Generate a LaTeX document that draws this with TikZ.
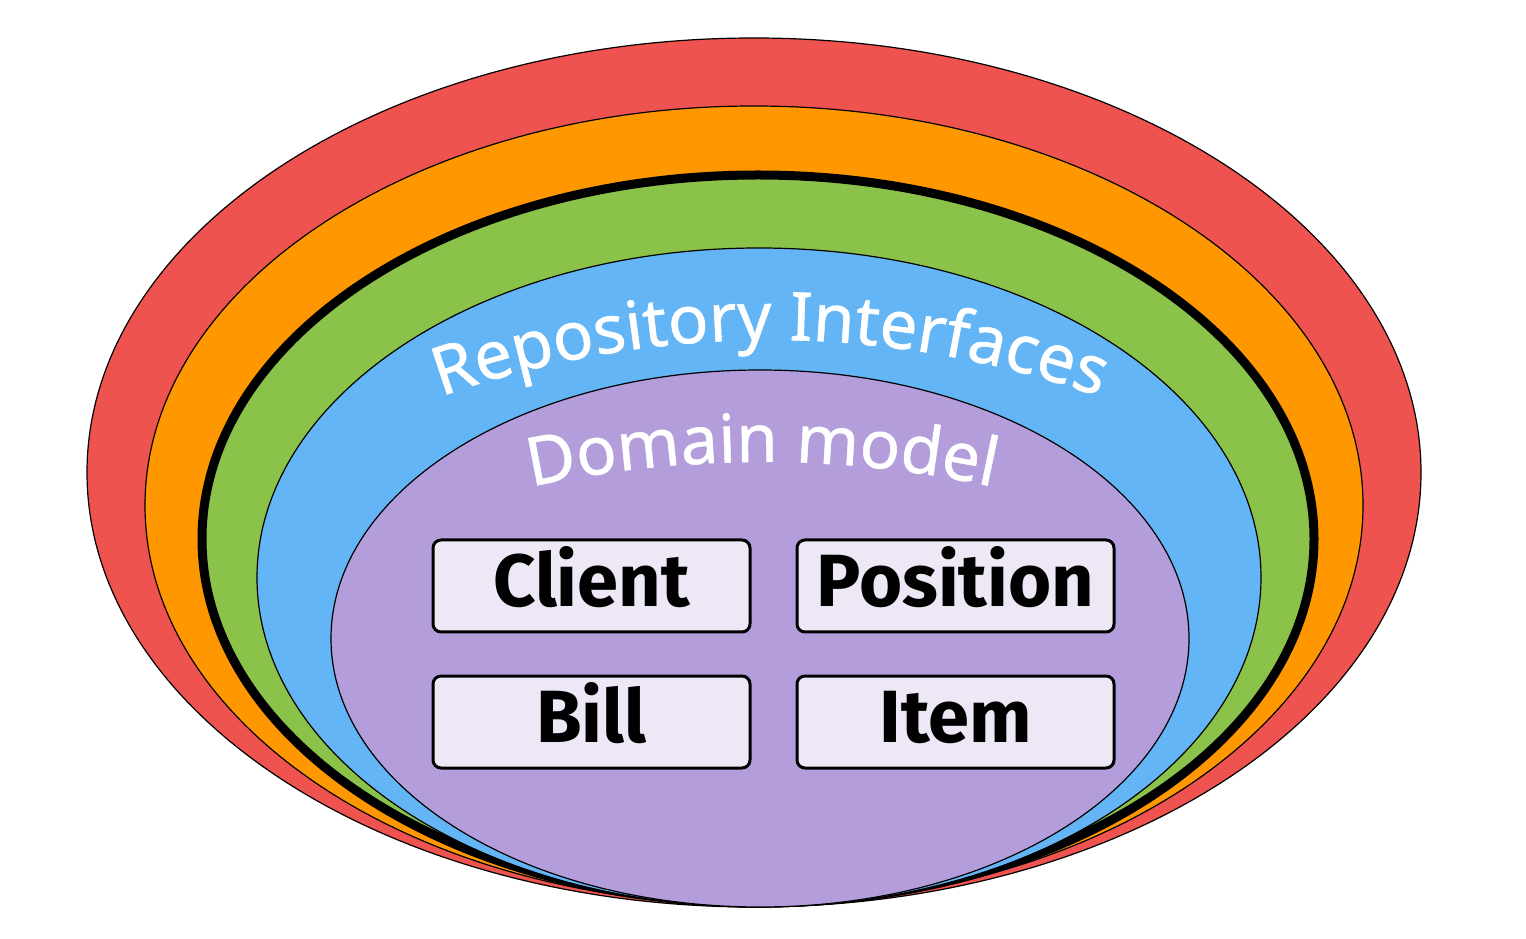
\documentclass[tikz,border=0pt]{standalone}
\usepackage{fontspec}
\setmainfont{Noto Sans}
\newfontfamily\curvefont[FakeBold=0.8]{Noto Sans}
\newfontfamily\boxfont{Fira Sans}
\usetikzlibrary{decorations.text}
\definecolor{cred}{HTML}{EF5350}
\definecolor{corange}{HTML}{FF9800}
\definecolor{cgreen}{HTML}{8BC34A}
\definecolor{cblue}{HTML}{64B5F6}
\definecolor{cpurple}{HTML}{B39DDB}
\definecolor{cboxfill}{HTML}{EDE7F6}
\tikzset{
  ring/.style={draw=black, line width=1.2pt},
  entity/.style={draw=black, line width=3pt, fill=cboxfill, rounded corners=8pt,
    minimum width=317pt, minimum height=92pt, inner sep=0pt,
    text height=51pt, text depth=10pt,
    font=\boxfont\bfseries\fontsize{74}{74}\selectfont},
}
\begin{document}
\begin{tikzpicture}[x=1pt,y=1pt]
\useasboundingbox (0,0) rectangle (1526,938);
\path[ring, fill=cred] (754,465.5) ellipse[x radius=667, y radius=434.5];
\path[ring, fill=corange] (754,432.5) ellipse[x radius=609, y radius=399.5];
\path[draw=black, line width=9pt, fill=cgreen] (758,399) ellipse[x radius=556, y radius=364];
\path[ring, fill=cblue] (759,360.5) ellipse[x radius=502, y radius=329.5];
\path[ring, fill=cpurple] (760,299.5) ellipse[x radius=429, y radius=268.5];
\path[decorate, decoration={text along path, text align=center, text color=white,
  text={|\curvefont\fontsize{67}{67}\selectfont|Repository Interfaces}}]
  (770,-386) ++(118:984) arc[start angle=118, end angle=62, radius=984];
\path[decorate, decoration={text along path, text align=center, text color=white,
  text={|\curvefont\fontsize{67}{67}\selectfont|Domain model}}]
  (762,-613) ++(115:1089) arc[start angle=115, end angle=65, radius=1089];
\node[entity] (client) at (591.5,352) {Client};
\node[entity] (position) at (955.5,352) {Position};
\node[entity] (bill) at (591.5,216) {Bill};
\node[entity] (item) at (955.5,216) {Item};
\end{tikzpicture}
\end{document}
